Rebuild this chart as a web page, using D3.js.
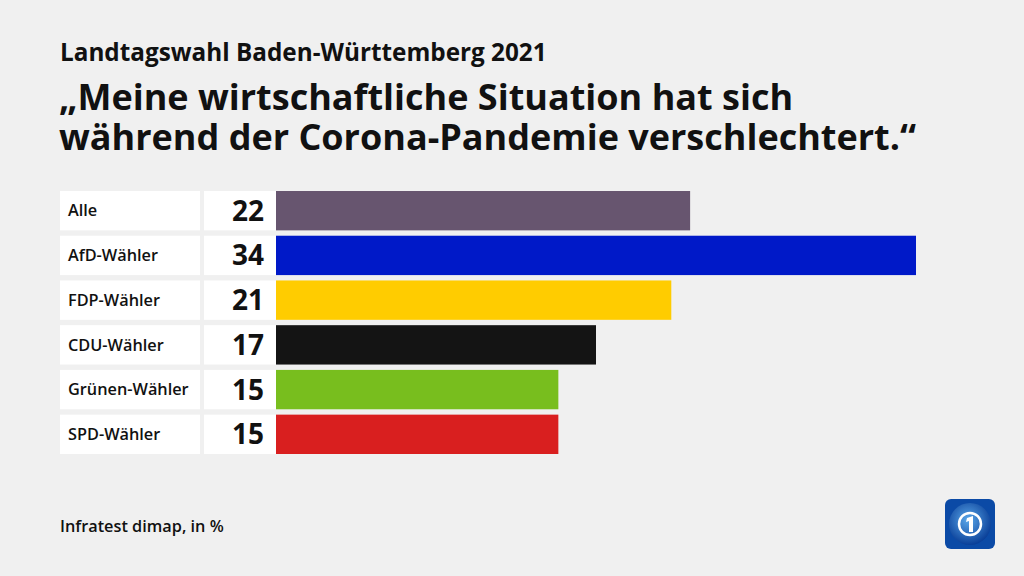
<!DOCTYPE html>
<html><head><meta charset="utf-8">
<script src="https://cdn.jsdelivr.net/npm/d3@7"></script>
<style>
html,body{margin:0;padding:0;background:#f0f0f0;}
svg{display:block;font-family:"Open Sans",Lato,sans-serif;}
</style></head>
<body>
<svg id="c" width="1024" height="576"></svg>
<script>
const categories = ["Alle","AfD-Wähler","FDP-Wähler","CDU-Wähler","Grünen-Wähler","SPD-Wähler"];
const values = [22,34,21,17,15,15];
const colors = ["#67556f","#0019c8","#ffcc00","#141414","#78be1e","#d91f1f"];
const subtitle = "Landtagswahl Baden-Württemberg 2021";
const titleLines = ["„Meine wirtschaftliche Situation hat sich","während der Corona-Pandemie verschlechtert.“"];
const source = "Infratest dimap, in %";

const svg = d3.select("#c");
svg.append("rect").attr("width",1024).attr("height",576).attr("fill","#f0f0f0");

svg.append("text").attr("x",60).attr("y",61).attr("font-size",24.3).attr("font-weight",700)
  .attr("fill","#111").text(subtitle);
const title = svg.append("text").attr("font-size",36).attr("font-weight",700).attr("fill","#111");
title.selectAll("tspan").data(titleLines).join("tspan")
  .attr("x",59).attr("y",(d,i)=>110+i*40).text(d=>d);

const y = d3.scaleBand().domain(categories).range([191,454]).paddingInner(0.12).paddingOuter(0);
const x = d3.scaleLinear().domain([0,34]).range([276,916]);

const rows = svg.selectAll("g.row").data(categories).join("g").attr("class","row");
rows.append("rect").attr("x",60).attr("y",d=>y(d)).attr("width",140).attr("height",y.bandwidth()).attr("fill","#fff");
rows.append("rect").attr("x",204).attr("y",d=>y(d)).attr("width",72).attr("height",y.bandwidth()).attr("fill","#fff");
rows.append("text").attr("x",68).attr("y",d=>y(d)+y.bandwidth()/2).attr("dy","0.35em")
  .attr("font-size",16.3).attr("font-weight",600).attr("fill","#111").text(d=>d);
rows.append("text").attr("x",264).attr("y",d=>y(d)+y.bandwidth()/2).attr("dy","0.36em")
  .attr("text-anchor","end").attr("font-size",28).attr("font-weight",700).attr("fill","#111")
  .text((d,i)=>values[i]);
rows.append("rect").attr("x",x(0)).attr("y",d=>y(d)).attr("width",(d,i)=>x(values[i])-x(0))
  .attr("height",y.bandwidth()).attr("fill",(d,i)=>colors[i]);

svg.append("text").attr("x",60).attr("y",532).attr("font-size",16.3).attr("font-weight",600)
  .attr("fill","#111").text(source);

// logo
const defs = svg.append("defs");
const g1 = defs.append("radialGradient").attr("id","lg").attr("cx","0.45").attr("cy","0.4").attr("r","0.6");
g1.append("stop").attr("offset","0").attr("stop-color","#5aa8ea");
g1.append("stop").attr("offset","1").attr("stop-color","#0a3f98");
const logo = svg.append("g").attr("transform","translate(945,499)");
logo.append("rect").attr("width",50).attr("height",50).attr("rx",6).attr("fill","#0b4aa6");
logo.append("circle").attr("cx",25).attr("cy",25).attr("r",21).attr("fill","url(#lg)");
logo.append("circle").attr("cx",25).attr("cy",25).attr("r",11).attr("fill","none").attr("stroke","#fff").attr("stroke-width",2.5);
logo.append("path").attr("d","M22,19 L28,17 L28,33 L24,33 L24,22 L21,23 Z").attr("fill","#fff");
</script>
</body></html>
